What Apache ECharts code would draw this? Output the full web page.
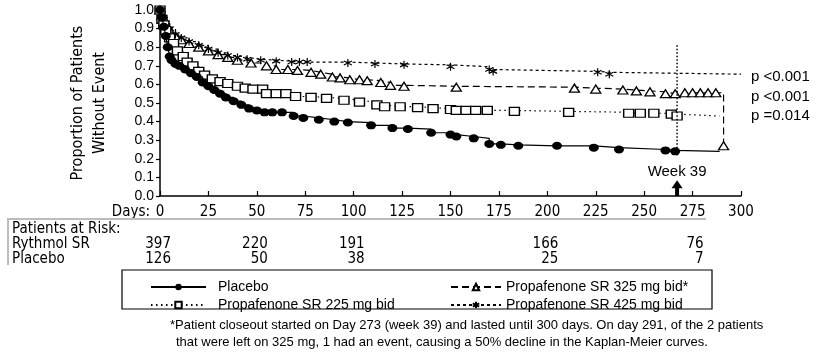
<!DOCTYPE html>
<html>
<head>
<meta charset="utf-8">
<script src="https://cdn.jsdelivr.net/npm/echarts@6/dist/echarts.min.js"></script>
<style>
  html, body { margin: 0; padding: 0; background: #fff; }
  #main { width: 816px; height: 352px; }
</style>
</head>
<body>
<div id="main"></div>
<script>
'use strict';

var NARROW = '"Liberation Sans Narrow", "DejaVu Sans Condensed", sans-serif';
var SANS = '"Liberation Sans", Arial, sans-serif';

// Kaplan-Meier curves (day, proportion without event)
var placeboDays = [0, 1, 2, 3, 4, 5, 6, 8, 10, 13, 16, 19, 22, 25, 28, 31, 34, 38, 42, 46,
    50, 54, 58, 63, 69, 74, 82, 90, 97, 109, 120, 128, 140, 150, 153, 162, 170, 176, 185, 205,
    224, 237, 261, 266, 289];
var placeboSurv = [1.0, 0.96, 0.91, 0.86, 0.80, 0.75, 0.73, 0.71, 0.70, 0.68, 0.66, 0.64, 0.61, 0.59, 0.57, 0.55, 0.53, 0.51, 0.49, 0.47,
    0.46, 0.45, 0.45, 0.45, 0.43, 0.42, 0.41, 0.40, 0.395, 0.38, 0.365, 0.36, 0.34, 0.33, 0.32, 0.31, 0.28, 0.275, 0.27, 0.27,
    0.26, 0.25, 0.245, 0.24, 0.24];

var sr225Days = [0, 1, 2, 3, 5, 7, 9, 12, 14, 17, 20, 23, 27, 31, 35, 40, 44, 48, 53, 55,
    60, 65, 70, 78, 86, 95, 103, 112, 116, 124, 133, 141, 150, 153, 158, 163, 169, 183, 211, 242,
    248, 255, 264, 267, 289];
var sr225Surv = [1.0, 0.95, 0.92, 0.89, 0.85, 0.82, 0.78, 0.75, 0.72, 0.70, 0.67, 0.65, 0.63, 0.615, 0.605, 0.59, 0.58, 0.575, 0.575, 0.55,
    0.55, 0.55, 0.535, 0.53, 0.525, 0.515, 0.505, 0.49, 0.48, 0.48, 0.475, 0.47, 0.465, 0.46, 0.46, 0.46, 0.46, 0.455, 0.45, 0.445,
    0.445, 0.445, 0.44, 0.43, 0.43];

var sr325Days = [0, 1, 2, 3, 5, 8, 11, 15, 20, 25, 30, 35, 40, 47, 55, 60, 66, 71, 78, 83,
    89, 93, 98, 103, 107, 114, 119, 126, 153, 214, 225, 239, 246, 253, 261, 266, 271, 275, 279, 283,
    287, 291];
var sr325Surv = [1.0, 0.97, 0.94, 0.92, 0.89, 0.86, 0.84, 0.82, 0.80, 0.78, 0.76, 0.745, 0.73, 0.715, 0.70, 0.68, 0.68, 0.675, 0.665, 0.655,
    0.64, 0.635, 0.625, 0.625, 0.62, 0.61, 0.595, 0.59, 0.585, 0.58, 0.575, 0.57, 0.565, 0.56, 0.55, 0.55, 0.555, 0.555, 0.555, 0.555,
    0.555, 0.27];

var sr425Days = [0, 1, 2, 3, 5, 8, 11, 15, 20, 25, 30, 35, 40, 45, 52, 60, 68, 72, 76, 97,
    111, 126, 150, 170, 172, 226, 232, 300];
var sr425Surv = [1.0, 0.98, 0.95, 0.93, 0.90, 0.87, 0.85, 0.83, 0.81, 0.79, 0.77, 0.755, 0.745, 0.735, 0.73, 0.725, 0.72, 0.72, 0.72, 0.715,
    0.71, 0.705, 0.695, 0.68, 0.67, 0.665, 0.655, 0.655];

var seriesNames = ['Placebo', 'Propafenone SR 225 mg bid', 'Propafenone SR 325 mg bid*', 'Propafenone SR 425 mg bid'];

// patients at risk table
var riskDays = [0, 50, 100, 200, 275];
var rythmolRisk = [397, 220, 191, 166, 76];
var placeboRisk = [126, 50, 38, 25, 7];

var pValues = ['p <0.001', 'p <0.001', 'p =0.014'];
var week39Day = 267;

var footnote = [
    '*Patient closeout started on Day 273 (week 39) and lasted until 300 days. On day 291, of the 2 patients',
    'that were left on 325 mg, 1 had an event, causing a 50% decline in the Kaplan-Meier curves.'
];

var ASTERISK = 'path://M0,-5L0,5M-4.33,-2.5L4.33,2.5M-4.33,2.5L4.33,-2.5';

var kmData = function (days, surv, bareEnd) {
    var res = [];
    for (var i = 0; i < days.length; i++) {
        var item = { value: [days[i], surv[i]] };
        if (bareEnd && i === days.length - 1) {
            item.symbol = 'none';
        }
        res.push(item);
    }
    return res;
};

var chart = echarts.init(document.getElementById('main'));

var legendText = { color: '#000', fontSize: 14, fontFamily: SANS, lineHeight: 16 };

var option = {
    animation: false,
    backgroundColor: '#fff',
    grid: { left: 160, right: 75, top: 10, bottom: 156 },
    legend: [
        {
            data: [seriesNames[0], seriesNames[1]],
            orient: 'vertical',
            left: 145,
            top: 274,
            itemWidth: 55,
            itemHeight: 8,
            itemGap: 2,
            selectedMode: false,
            textStyle: echarts.util.extend({ padding: [0, 0, 0, 7] }, legendText)
        },
        {
            data: [seriesNames[2], seriesNames[3]],
            orient: 'vertical',
            left: 445,
            top: 274,
            itemWidth: 50,
            itemHeight: 8,
            itemGap: 2,
            selectedMode: false,
            textStyle: echarts.util.extend({ padding: [0, 0, 0, 0] }, legendText)
        }
    ],
    xAxis: {
        type: 'value',
        min: 0,
        max: 300,
        interval: 25,
        axisLine: { show: true, lineStyle: { color: '#000', width: 1.5 } },
        axisTick: { show: true, inside: true, length: 5, lineStyle: { color: '#000', width: 1.2 } },
        axisLabel: { color: '#000', fontSize: 15, fontFamily: NARROW, margin: 9 },
        splitLine: { show: false }
    },
    yAxis: {
        type: 'value',
        min: 0,
        max: 1,
        interval: 0.1,
        name: 'Proportion of Patients\nWithout Event',
        nameLocation: 'middle',
        nameRotate: 90,
        nameGap: 49,
        nameTextStyle: { color: '#000', fontSize: 16, fontFamily: NARROW, lineHeight: 22 },
        axisLine: { show: true, lineStyle: { color: '#000', width: 1.5 } },
        axisTick: { show: true, inside: false, length: 4, lineStyle: { color: '#000', width: 1.2 } },
        axisLabel: {
            color: '#000', fontSize: 14, fontFamily: SANS, margin: 6,
            formatter: function (v) { return v.toFixed(1); }
        },
        splitLine: { show: false }
    },
    series: [
        {
            name: seriesNames[0],
            type: 'line',
            step: 'end',
            data: kmData(placeboDays, placeboSurv, true),
            symbol: 'circle',
            symbolSize: [10, 8],
            lineStyle: { color: '#000', width: 1.2 },
            itemStyle: { color: '#000' },
            z: 5
        },
        {
            name: seriesNames[1],
            type: 'line',
            step: 'end',
            data: kmData(sr225Days, sr225Surv, true),
            symbol: 'rect',
            symbolSize: [10, 8],
            lineStyle: { color: '#000', width: 1.2, type: [1.5, 3.5] },
            itemStyle: { color: '#fff', borderColor: '#000', borderWidth: 1.3 },
            z: 4
        },
        {
            name: seriesNames[2],
            type: 'line',
            step: 'end',
            data: kmData(sr325Days, sr325Surv, false),
            symbol: 'triangle',
            symbolSize: [10, 8],
            lineStyle: { color: '#000', width: 1.2, type: [7, 4] },
            itemStyle: { color: '#fff', borderColor: '#000', borderWidth: 1.3 },
            z: 3
        },
        {
            name: seriesNames[3],
            type: 'line',
            step: 'end',
            data: kmData(sr425Days, sr425Surv, true),
            symbol: ASTERISK,
            symbolSize: 8,
            lineStyle: { color: '#000', width: 1.2, type: [3, 3] },
            itemStyle: { color: '#000', borderColor: '#000', borderWidth: 1.2 },
            z: 3
        },
        {
            // week 39 marker line
            name: 'week39',
            type: 'line',
            data: [[week39Day, 0.81], [week39Day, 0.21]],
            symbol: 'none',
            silent: true,
            lineStyle: { color: '#000', width: 1.5, type: [1.5, 2] },
            z: 6
        },
        {
            name: 'arrow',
            type: 'line',
            data: [
                { value: [week39Day, 0] },
                {
                    value: [week39Day, 0.063],
                    symbol: 'triangle',
                    symbolSize: [11, 8],
                    label: {
                        show: true, position: 'top', distance: 1, formatter: 'Week 39',
                        color: '#000', fontSize: 15, fontFamily: SANS
                    }
                }
            ],
            symbol: 'none',
            silent: true,
            lineStyle: { color: '#000', width: 4 },
            itemStyle: { color: '#000' },
            z: 6
        }
    ]
};
chart.setOption(option);

var xPix = function (d) { return chart.convertToPixel({ xAxisIndex: 0 }, d); };

var graphics = [];
graphics.push({
    type: 'text', x: xPix(0) - 10, y: 212,
    style: { text: 'Days:', align: 'right', verticalAlign: 'middle', fill: '#000', font: '15px ' + NARROW }
});

// patients at risk frame
graphics.push({
    type: 'polyline',
    shape: { points: [[8, 265], [8, 219], [706, 219]] },
    style: { stroke: '#bdbdbd', lineWidth: 2, fill: null }
});
var rowLabels = ['Patients at Risk:', 'Rythmol SR', 'Placebo'];
var rowY = [229, 244, 259];
for (var r = 0; r < rowLabels.length; r++) {
    graphics.push({
        type: 'text', x: 12, y: rowY[r],
        style: { text: rowLabels[r], verticalAlign: 'middle', fill: '#000', font: '15px ' + NARROW }
    });
}
for (var k = 0; k < riskDays.length; k++) {
    graphics.push({
        type: 'text', x: xPix(riskDays[k]) + 11, y: rowY[1],
        style: { text: String(rythmolRisk[k]), align: 'right', verticalAlign: 'middle', fill: '#000', font: '15px ' + NARROW }
    });
    graphics.push({
        type: 'text', x: xPix(riskDays[k]) + 11, y: rowY[2],
        style: { text: String(placeboRisk[k]), align: 'right', verticalAlign: 'middle', fill: '#000', font: '15px ' + NARROW }
    });
}

// legend frame
graphics.push({
    type: 'rect',
    shape: { x: 122, y: 270, width: 590, height: 39 },
    style: { stroke: '#000', lineWidth: 1.2, fill: null },
    z: -1
});

// p values
var pY = [77, 97, 116];
for (var p = 0; p < pValues.length; p++) {
    graphics.push({
        type: 'text', x: 751, y: pY[p],
        style: { text: pValues[p], verticalAlign: 'middle', fill: '#000', font: '15px ' + SANS }
    });
}

// footnote
graphics.push({
    type: 'text', x: 170, y: 325,
    style: { text: footnote[0], verticalAlign: 'middle', fill: '#000', font: '13px ' + SANS }
});
graphics.push({
    type: 'text', x: 176, y: 342,
    style: { text: footnote[1], verticalAlign: 'middle', fill: '#000', font: '13px ' + SANS }
});

chart.setOption({ graphic: graphics });
</script>
</body>
</html>
